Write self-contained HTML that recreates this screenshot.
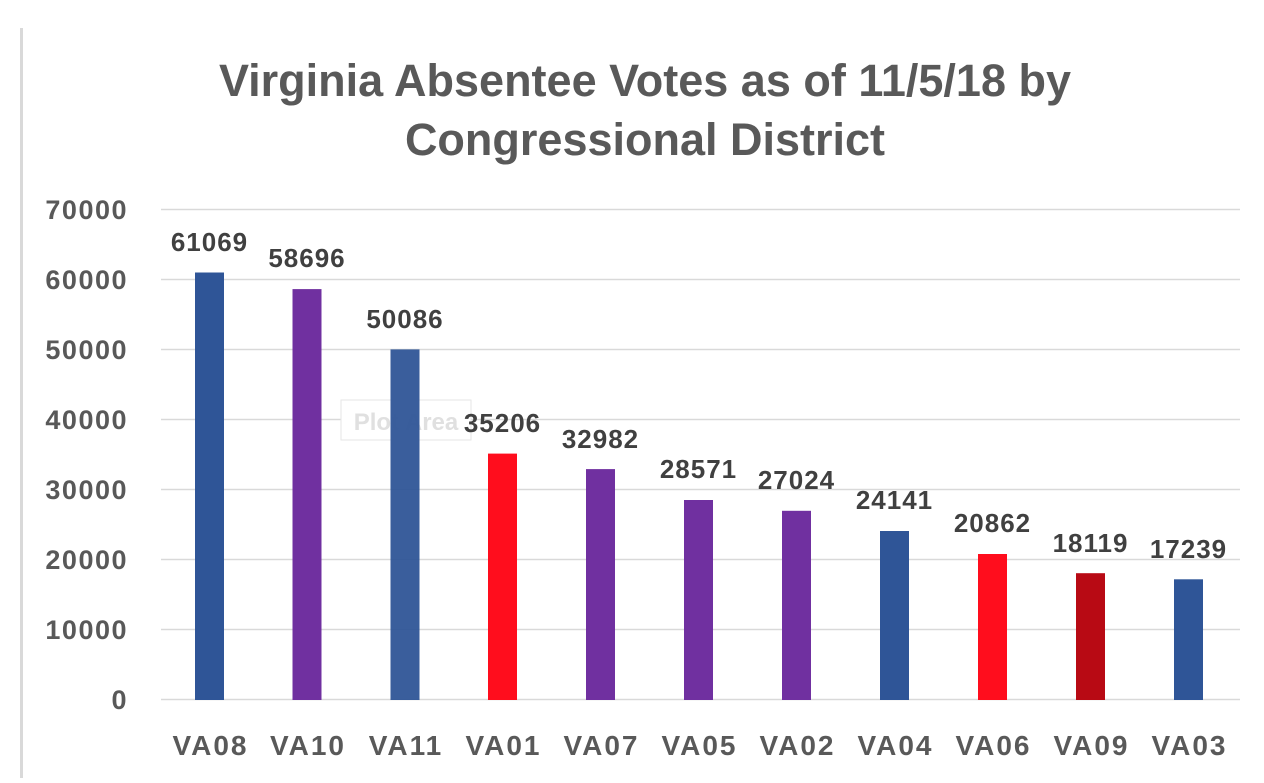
<!DOCTYPE html>
<html><head><meta charset="utf-8"><style>
body{margin:0;background:#fff;}
svg text{font-family:"Liberation Sans",sans-serif;font-weight:bold;}
</style></head><body>
<svg width="1264" height="778" xmlns="http://www.w3.org/2000/svg">
<rect x="0" y="0" width="1264" height="778" fill="#fff"/>
<rect x="20" y="28" width="3" height="750" fill="#d9d9d9"/>
<text x="645" y="96" text-anchor="middle" font-size="45" fill="#595959">Virginia Absentee Votes as of 11/5/18 by</text>
<text x="645" y="155" text-anchor="middle" font-size="45" fill="#595959">Congressional District</text>
<g stroke="#d9d9d9" stroke-width="1.5">
<line x1="161" x2="1240" y1="209.5" y2="209.5"/>
<line x1="161" x2="1240" y1="279.5" y2="279.5"/>
<line x1="161" x2="1240" y1="349.5" y2="349.5"/>
<line x1="161" x2="1240" y1="419.5" y2="419.5"/>
<line x1="161" x2="1240" y1="489.5" y2="489.5"/>
<line x1="161" x2="1240" y1="559.5" y2="559.5"/>
<line x1="161" x2="1240" y1="629.5" y2="629.5"/>
<line x1="161" x2="1240" y1="699.5" y2="699.5"/>
</g>
<g font-size="27" fill="#595959" text-anchor="end" letter-spacing="1.5">
<text x="128" y="219">70000</text>
<text x="128" y="289">60000</text>
<text x="128" y="359">50000</text>
<text x="128" y="429">40000</text>
<text x="128" y="499">30000</text>
<text x="128" y="569">20000</text>
<text x="128" y="639">10000</text>
<text x="128" y="709">0</text>
</g>
<rect x="341" y="400" width="130" height="40" fill="#fff" stroke="#e6e6e6"/>
<text x="406" y="430" text-anchor="middle" font-size="24" fill="#e0e0e0" font-weight="normal">Plot Area</text>
<g>
<rect x="195" y="272.5" width="29" height="427.5" fill="#2f5597"/>
<rect x="292.5" y="289.1" width="29" height="410.9" fill="#7030a0"/>
<rect x="390.5" y="349.4" width="29" height="350.6" fill="#2f5597" opacity="0.95"/>
<rect x="488" y="453.6" width="29" height="246.4" fill="#ff0d1d"/>
<rect x="586" y="469.1" width="29" height="230.9" fill="#7030a0"/>
<rect x="684" y="500" width="29" height="200" fill="#7030a0"/>
<rect x="782" y="510.8" width="29" height="189.2" fill="#7030a0"/>
<rect x="880" y="531" width="29" height="169" fill="#2f5597"/>
<rect x="978" y="554" width="29" height="146" fill="#ff0d1d"/>
<rect x="1076" y="573.2" width="29" height="126.8" fill="#b80a14"/>
<rect x="1174" y="579.3" width="29" height="120.7" fill="#2f5597"/>
</g>
<g font-size="26" fill="#404040" text-anchor="middle" letter-spacing="1">
<text x="209.5" y="251">61069</text>
<text x="307" y="267">58696</text>
<text x="405" y="328">50086</text>
<text x="502.5" y="432">35206</text>
<text x="600.5" y="448">32982</text>
<text x="698.5" y="478">28571</text>
<text x="796.5" y="489">27024</text>
<text x="894.5" y="509">24141</text>
<text x="992.5" y="532">20862</text>
<text x="1090.5" y="552">18119</text>
<text x="1188.5" y="558">17239</text>
</g>
<g font-size="28" fill="#595959" text-anchor="middle" letter-spacing="2">
<text x="210.5" y="755">VA08</text>
<text x="308" y="755">VA10</text>
<text x="406" y="755">VA11</text>
<text x="503.5" y="755">VA01</text>
<text x="601.5" y="755">VA07</text>
<text x="699.5" y="755">VA05</text>
<text x="797.5" y="755">VA02</text>
<text x="895.5" y="755">VA04</text>
<text x="993.5" y="755">VA06</text>
<text x="1091.5" y="755">VA09</text>
<text x="1189.5" y="755">VA03</text>
</g>
</svg>
</body></html>
